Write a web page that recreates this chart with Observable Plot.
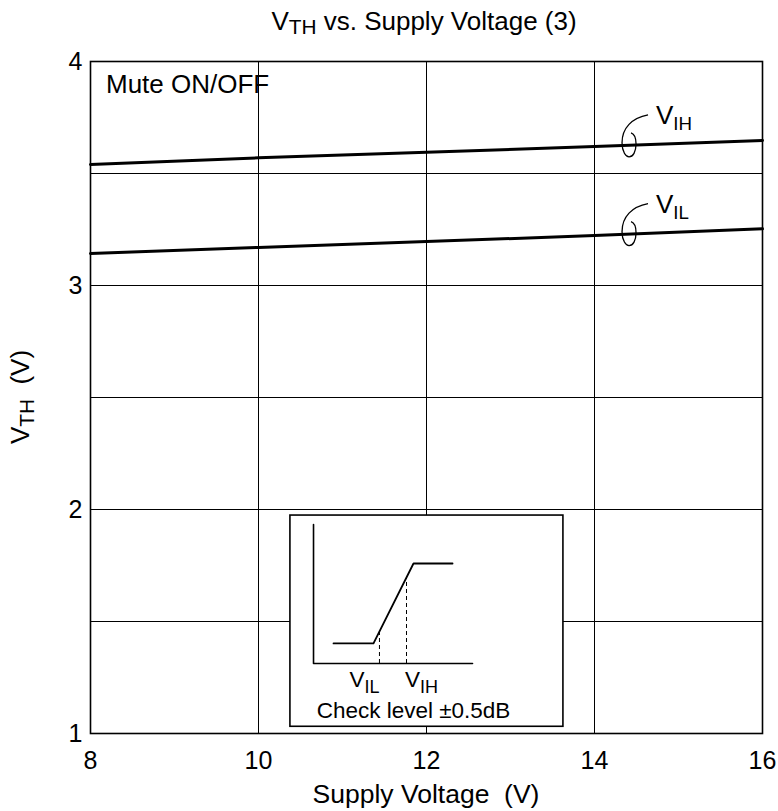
<!DOCTYPE html>
<html><head><meta charset="utf-8">
<script src="https://cdn.jsdelivr.net/npm/d3@7"></script>
<script src="https://cdn.jsdelivr.net/npm/@observablehq/plot@0.6"></script>
<style>
html,body{margin:0;padding:0;background:#fff;}
svg{display:block;}
</style></head><body><div id="chart"></div>
<script>
// ---- data ----
const supplyVoltage = [8, 10, 12, 14, 16];
const vihValues = [3.540, 3.570, 3.595, 3.620, 3.647];
const vilValues = [3.143, 3.170, 3.196, 3.223, 3.253];
const seriesNames = ["V{IH}", "V{IL}"];
const xTicks = [8, 10, 12, 14, 16];
const yTicks = [1, 2, 3, 4];
const xGrid = [10, 12, 14];
const yGrid = [1.5, 2, 2.5, 3, 3.5];
const titleText = "V{TH} vs. Supply Voltage (3)";
const xLabel = "Supply Voltage  (V)";
const yLabel = "V{TH}  (V)";
const panelLabel = "Mute ON/OFF";
const leaderX = 14.417; // supply voltage where each callout rings its line
// inset schematic, expressed in chart units
const insetBox = [{x1: 10.38, x2: 13.63, y1: 1.03, y2: 1.973}];
const insetAxes = [{x: 10.655, y: 1.933}, {x: 10.655, y: 1.3125}, {x: 12.548, y: 1.3125}];
const insetCurve = [{x: 10.893, y: 1.402}, {x: 11.369, y: 1.402}, {x: 11.845, y: 1.759}, {x: 12.31, y: 1.759}];
const insetThresholds = [{x: 11.44, y: 1.455}, {x: 11.762, y: 1.696}];
const insetLabels = [{x: 11.268, y: 1.207, text: "V{IL}"}, {x: 11.946, y: 1.207, text: "V{IH}"}];
const insetCaption = [{x: 11.851, y: 1.067, text: "Check level ±0.5dB"}];

const rows = [];
supplyVoltage.forEach((v, i) => {
  rows.push({series: "VIH", x: v, y: vihValues[i]});
  rows.push({series: "VIL", x: v, y: vilValues[i]});
});
const seriesData = [vihValues, vilValues];

function interp(xs, ys, x) {
  for (let i = 0; i < xs.length - 1; i++) {
    if (x >= xs[i] && x <= xs[i + 1]) {
      const t = (x - xs[i]) / (xs[i + 1] - xs[i]);
      return ys[i] + t * (ys[i + 1] - ys[i]);
    }
  }
  return ys[ys.length - 1];
}

function richText(g, str, o) {
  const size = o.size || 25, subScale = o.subScale || 0.75, subShift = o.subShift || 0.25;
  const t = g.append("text")
    .attr("font-size", size)
    .attr("text-anchor", o.anchor || "start")
    .attr("fill", "black")
    .attr("transform", `translate(${o.x},${o.y})` + (o.rotate ? ` rotate(${o.rotate})` : ""));
  const parts = str.split(/\{([^}]*)\}/);
  let shifted = false;
  parts.forEach((p, i) => {
    if (!p) return;
    const sub = i % 2 === 1;
    const ts = t.append("tspan").text(p);
    if (sub) { ts.attr("font-size", size * subScale).attr("dy", size * subShift); shifted = true; }
    else if (shifted) { ts.attr("dy", -size * subShift); shifted = false; }
  });
  return t;
}

const W = 778, H = 811, mL = 90, mR = 16, mT = 61, mB = 78;

const annotations = (index, scales, values, dims) => {
  const xs = (scales && typeof scales.x === "function") ? scales.x : d3.scaleLinear([8, 16], [mL, W - mR]);
  const ys = (scales && typeof scales.y === "function") ? scales.y : d3.scaleLinear([1, 4], [H - mB, mT]);
  const g = d3.create("svg:g");
  const d = dims || {width: W, height: H, marginLeft: mL, marginRight: mR, marginTop: mT, marginBottom: mB};
  const cx = d.marginLeft + (d.width - d.marginLeft - d.marginRight) / 2;
  const cy = d.marginTop + (d.height - d.marginTop - d.marginBottom) / 2;
  richText(g, titleText, {x: cx - 2, y: 30, anchor: "middle", size: 26, subScale: 0.8, subShift: 0.16});
  richText(g, xLabel, {x: cx, y: 803, anchor: "middle", size: 26.5});
  richText(g, yLabel, {x: 29, y: cy, anchor: "middle", size: 26, rotate: -90, subScale: 0.8, subShift: 0.2});
  richText(g, panelLabel, {x: d.marginLeft + 16, y: d.marginTop + 32, size: 26});
  seriesData.forEach((vals, i) => {
    const px = xs(leaderX), py = ys(interp(supplyVoltage, vals, leaderX));
    g.append("path")
      .attr("d", `M${px + 19},${py - 30} C${px + 3},${py - 27} ${px - 7},${py - 17} ${px - 7},${py - 2} C${px - 7},${py + 7} ${px - 3},${py + 12} ${px},${py + 12} C${px + 4},${py + 12} ${px + 7},${py + 7} ${px + 7},${py - 1} C${px + 7},${py - 7} ${px + 5},${py - 11} ${px + 2},${py - 12}`)
      .attr("fill", "none").attr("stroke", "black").attr("stroke-width", 1.3);
    richText(g, seriesNames[i], {x: px + 27, y: py - 21, size: 26, subScale: 0.72, subShift: 0.24});
  });
  insetLabels.forEach(l => richText(g, l.text, {x: xs(l.x), y: ys(l.y), anchor: "middle", size: 22.5, subScale: 0.8, subShift: 0.27}));
  insetCaption.forEach(l => richText(g, l.text, {x: xs(l.x), y: ys(l.y), anchor: "middle", size: 22.5}));
  return g.node();
};

const chart = Plot.plot({
  width: W, height: H,
  marginLeft: mL, marginRight: mR, marginTop: mT, marginBottom: mB,
  style: {fontFamily: "'Liberation Sans', Arial, Helvetica, sans-serif", fontSize: "25px", background: "white", color: "black"},
  x: {domain: [8, 16], ticks: xTicks, tickSize: 0, tickPadding: 18, label: null, tickFormat: d => String(d)},
  y: {domain: [1, 4], ticks: yTicks, tickSize: 0, tickPadding: 8, label: null, tickFormat: d => String(d)},
  marks: [
    Plot.ruleX(xGrid, {stroke: "black", strokeWidth: 1}),
    Plot.ruleY(yGrid, {stroke: "black", strokeWidth: 1}),
    Plot.line(rows, {x: "x", y: "y", z: "series", stroke: "black", strokeWidth: 3}),
    Plot.rect(insetBox, {x1: "x1", x2: "x2", y1: "y1", y2: "y2", fill: "white", stroke: "black", strokeWidth: 1.6}),
    Plot.line(insetAxes, {x: "x", y: "y", stroke: "black", strokeWidth: 1.6}),
    Plot.line(insetCurve, {x: "x", y: "y", stroke: "black", strokeWidth: 1.8}),
    Plot.ruleX(insetThresholds, {x: "x", y1: insetAxes[1].y, y2: "y", stroke: "black", strokeWidth: 1, strokeDasharray: "4,3"}),
    Plot.frame({stroke: "black", strokeWidth: 1.6}),
    annotations
  ]
});
document.getElementById("chart").appendChild(chart);
</script>
</body></html>
